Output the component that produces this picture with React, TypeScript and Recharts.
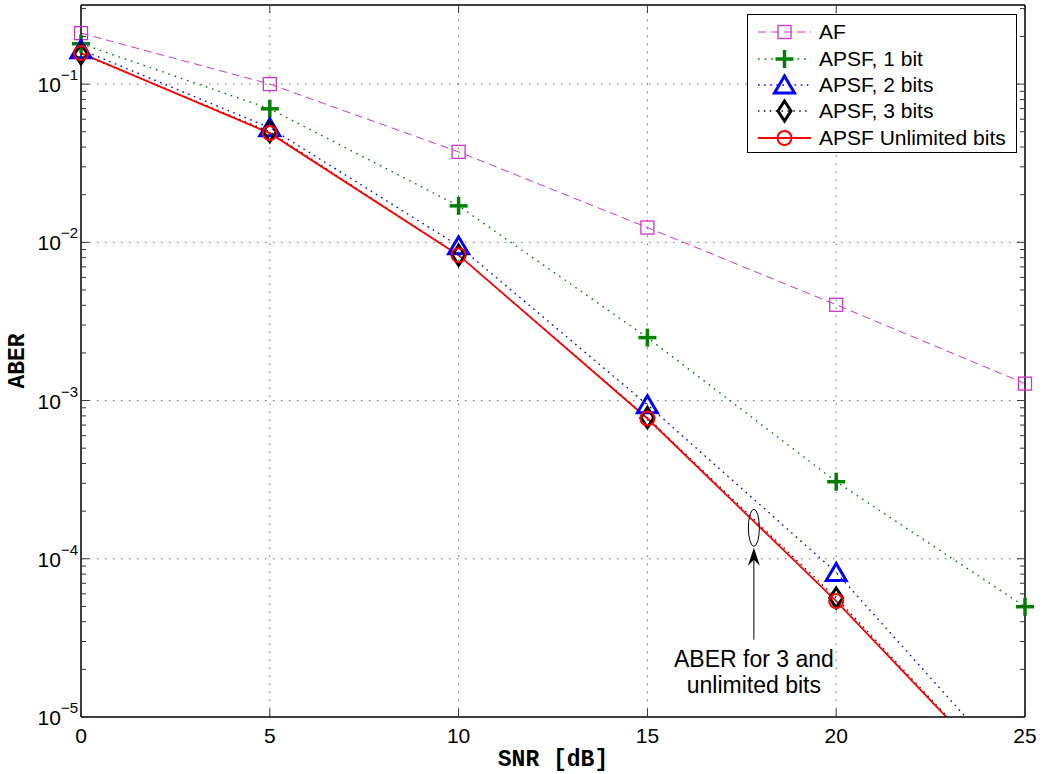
import { LineChart, Line, XAxis, YAxis, ReferenceLine, ReferenceDot, Legend } from 'recharts';

// SNR in dB
const snr = [0, 5, 10, 15, 20, 25];

// ABER values (points below 1e-5 are clipped)
const af = [0.21, 0.1, 0.0373, 0.0124, 0.00403, 0.00128];
const apsf1 = [0.18, 0.0698, 0.017, 0.0025, 3.07e-4, 4.98e-5];
const apsf2 = [0.165, 0.053, 0.0095, 9.4e-4, 8.2e-5, 3.8e-6];
const apsf3 = [0.155, 0.05, 0.0083, 7.8e-4, 5.65e-5, 3.0e-6];
const apsfInf = [0.157, 0.049, 0.0083, 7.7e-4, 5.4e-5, 3.0e-6];

const seriesNames = ['AF', 'APSF, 1 bit', 'APSF, 2 bits', 'APSF, 3 bits', 'APSF Unlimited bits'];

const xTicks = [0, 5, 10, 15, 20, 25];
const yMajor = [1e-5, 1e-4, 1e-3, 1e-2, 1e-1];
const yMinorMult = [2, 3, 4, 5, 6, 7, 8, 9];
const yDomain = [1e-5, 0.3162];

const annoX = 17.82;
const annoY = 1.57e-4;
const annoText = ['ABER for 3 and', 'unlimited bits'];

const data = snr.map((s, i) => ({
  snr: s,
  af: af[i],
  b1: apsf1[i],
  b2: apsf2[i],
  b3: apsf3[i],
  inf: apsfInf[i],
}));

const yTicks = [...yMajor, ...yMajor.flatMap((d) => yMinorMult.map((k) => +(k * d).toPrecision(3)))]
  .filter((v) => v <= yDomain[1])
  .sort((a, b) => a - b);

const SANS = '"Liberation Sans", Arial, Helvetica, sans-serif';
const MONO = '"Liberation Mono", "Courier New", monospace';

type Marker = 'square' | 'plus' | 'triangle' | 'diamond' | 'circle';

const styles: { key: string; color: string; dash?: string; width: number; marker: Marker }[] = [
  { key: 'af', color: '#cc33cc', dash: '8 5', width: 1, marker: 'square' },
  { key: 'b1', color: '#008000', dash: '1.6 5', width: 1.4, marker: 'plus' },
  { key: 'b2', color: '#0000ff', dash: '1.6 4.5', width: 1.4, marker: 'triangle' },
  { key: 'b3', color: '#000000', dash: '1.4 4.5', width: 1.3, marker: 'diamond' },
  { key: 'inf', color: '#ff0000', width: 1.8, marker: 'circle' },
];

function MarkerShape({ type, cx, cy, color }: { type: Marker; cx: number; cy: number; color: string }) {
  switch (type) {
    case 'square':
      return <rect x={cx - 6.5} y={cy - 6.5} width={13} height={13} fill="none" stroke={color} strokeWidth={1.3} />;
    case 'plus':
      return (
        <g stroke={color} strokeWidth={3.5}>
          <line x1={cx - 9} x2={cx + 9} y1={cy} y2={cy} />
          <line x1={cx} x2={cx} y1={cy - 9} y2={cy + 9} />
        </g>
      );
    case 'triangle':
      return (
        <polygon
          points={`${cx},${cy - 9} ${cx - 10},${cy + 8} ${cx + 10},${cy + 8}`}
          fill="none"
          stroke={color}
          strokeWidth={3}
        />
      );
    case 'diamond':
      return (
        <polygon
          points={`${cx},${cy - 10} ${cx + 6.5},${cy} ${cx},${cy + 10} ${cx - 6.5},${cy}`}
          fill="none"
          stroke={color}
          strokeWidth={3}
        />
      );
    default:
      return <circle cx={cx} cy={cy} r={7} fill="none" stroke={color} strokeWidth={2} />;
  }
}

function makeDot(type: Marker, color: string) {
  return (props: any) => {
    const { cx, cy, value, key } = props;
    if (cx == null || cy == null || value < yDomain[0]) return <g key={key} />;
    return (
      <g key={key}>
        <MarkerShape type={type} cx={cx} cy={cy} color={color} />
      </g>
    );
  };
}

function LeftTick({ x, y, payload }: any) {
  const v = payload.value;
  const major = yMajor.includes(v);
  const exp = Math.round(Math.log10(v));
  return (
    <g>
      <line x1={x} x2={x + (major ? 8 : 5)} y1={y} y2={y} stroke="#333" />
      {major && (
        <text x={x - 3} y={y + 8} textAnchor="end" fontSize={21} fill="#000" fontFamily={SANS}>
          10
          <tspan dy={-12} fontSize={15}>
            {'\u2212' + Math.abs(exp)}
          </tspan>
        </text>
      )}
    </g>
  );
}

function RightTick({ x, y, payload }: any) {
  const major = yMajor.includes(payload.value);
  return <line x1={x} x2={x - (major ? 8 : 5)} y1={y} y2={y} stroke="#333" />;
}

function BottomTick({ x, y, payload }: any) {
  return (
    <g>
      <line x1={x} x2={x} y1={y} y2={y - 8} stroke="#333" />
      <text x={x} y={y + 26} textAnchor="middle" fontSize={21} fill="#000" fontFamily={SANS}>
        {payload.value}
      </text>
    </g>
  );
}

function TopTick({ x, y }: any) {
  return <line x1={x} x2={x} y1={y} y2={y + 8} stroke="#333" />;
}

function YLabel({ viewBox }: any) {
  const cx = viewBox.x + 24;
  const cy = viewBox.y + viewBox.height / 2;
  return (
    <text
      x={cx}
      y={cy}
      transform={`rotate(-90, ${cx}, ${cy})`}
      textAnchor="middle"
      fontSize={23}
      fontWeight="bold"
      fontFamily={MONO}
      fill="#000"
    >
      ABER
    </text>
  );
}

function XLabel({ viewBox }: any) {
  return (
    <text
      x={viewBox.x + viewBox.width / 2}
      y={viewBox.y + 49}
      textAnchor="middle"
      fontSize={23}
      fontWeight="bold"
      fontFamily={MONO}
      fill="#000"
    >
      SNR [dB]
    </text>
  );
}

function Annotation({ cx, cy }: any) {
  if (cx == null) return null;
  return (
    <g>
      <ellipse cx={cx} cy={cy} rx={5.5} ry={18.5} fill="none" stroke="#000" strokeWidth={1} />
      <line x1={cx} x2={cx} y1={cy + 112} y2={cy + 28} stroke="#000" strokeWidth={1} />
      <polygon
        points={`${cx},${cy + 20} ${cx + 6},${cy + 38} ${cx},${cy + 32} ${cx - 6},${cy + 38}`}
        fill="#000"
      />
      {annoText.map((t, i) => (
        <text
          key={t}
          x={cx}
          y={cy + 139 + i * 26}
          textAnchor="middle"
          fontSize={23}
          fill="#000"
          fontFamily={SANS}
        >
          {t}
        </text>
      ))}
    </g>
  );
}

function LegendBox() {
  return (
    <div
      style={{
        border: '1px solid #000',
        background: '#fff',
        padding: '4px 0',
        boxSizing: 'border-box',
        width: 270,
        height: 139,
      }}
    >
      {styles.map((s, i) => (
        <div key={s.key} style={{ height: 26.4, display: 'flex', alignItems: 'center' }}>
          <svg width={70} height={26} style={{ display: 'block' }}>
            <line
              x1={10}
              x2={63}
              y1={13}
              y2={13}
              stroke={s.color}
              strokeWidth={s.width}
              strokeDasharray={s.dash}
            />
            <MarkerShape type={s.marker} cx={36.5} cy={13} color={s.color} />
          </svg>
          <span style={{ fontFamily: SANS, fontSize: 21, color: '#000', marginLeft: 1, whiteSpace: 'nowrap' }}>
            {seriesNames[i]}
          </span>
        </div>
      ))}
    </div>
  );
}

export default function App() {
  return (
    <div style={{ position: 'absolute', left: 0, top: 0, width: 1050, height: 774, background: '#fff' }}>
      <LineChart width={1050} height={774} data={data} margin={{ top: 0, right: 0, bottom: 0, left: 0 }}>
        <XAxis
          dataKey="snr"
          type="number"
          domain={[0, 25]}
          ticks={xTicks}
          interval={0}
          height={57}
          tickSize={0}
          tickMargin={0}
          tickLine={false}
          axisLine={{ stroke: '#000', strokeWidth: 1.5 }}
          tick={<BottomTick />}
          label={<XLabel />}
        />
        <XAxis
          xAxisId="t"
          orientation="top"
          dataKey="snr"
          type="number"
          domain={[0, 25]}
          ticks={xTicks}
          interval={0}
          height={5}
          tickSize={0}
          tickMargin={0}
          tickLine={false}
          axisLine={{ stroke: '#000', strokeWidth: 1.5 }}
          tick={<TopTick />}
        />
        <YAxis
          type="number"
          scale="log"
          domain={yDomain}
          allowDataOverflow
          ticks={yTicks}
          interval={0}
          width={81}
          tickSize={0}
          tickMargin={0}
          tickLine={false}
          axisLine={{ stroke: '#000', strokeWidth: 1.5 }}
          tick={<LeftTick />}
          label={<YLabel />}
        />
        <YAxis
          yAxisId="r"
          orientation="right"
          type="number"
          scale="log"
          domain={yDomain}
          allowDataOverflow
          ticks={yTicks}
          interval={0}
          width={25}
          tickSize={0}
          tickMargin={0}
          tickLine={false}
          axisLine={{ stroke: '#000', strokeWidth: 1.5 }}
          tick={<RightTick />}
        />
        {xTicks.slice(1, -1).map((t) => (
          <ReferenceLine key={'vx' + t} x={t} stroke="#666" strokeDasharray="1.5 6.5" />
        ))}
        {yMajor.slice(1).map((t) => (
          <ReferenceLine key={'hy' + t} y={t} stroke="#666" strokeDasharray="1.5 6.5" />
        ))}
        {styles.map((s) => (
          <Line
            key={s.key}
            dataKey={s.key}
            name={s.key}
            type="linear"
            stroke={s.color}
            strokeWidth={s.width}
            strokeDasharray={s.dash}
            dot={makeDot(s.marker, s.color)}
            activeDot={false}
            isAnimationActive={false}
          />
        ))}
        <ReferenceDot x={annoX} y={annoY} r={0} shape={<Annotation />} />
        <Legend
          layout="vertical"
          align="center"
          verticalAlign="middle"
          content={<LegendBox />}
          wrapperStyle={{ left: 747, top: 14, width: 270, height: 139 }}
        />
      </LineChart>
    </div>
  );
}
